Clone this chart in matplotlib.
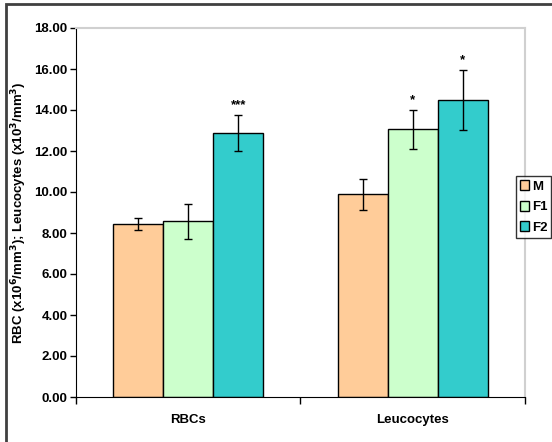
import numpy as np
import matplotlib.pyplot as plt
from matplotlib.patches import Rectangle

# --- data ---
categories = ['RBCs', 'Leucocytes']
groups = ['M', 'F1', 'F2']
m_vals = [8.43, 9.89]
f1_vals = [8.57, 13.05]
f2_vals = [12.88, 14.48]
m_err = [0.29, 0.75]
f1_err = [0.84, 0.94]
f2_err = [0.86, 1.46]
stars = [['', '', '***'], ['', '*', '*']]
yticks = [0, 2, 4, 6, 8, 10, 12, 14, 16, 18]

colors = ['#FFCC99', '#CCFFCC', '#33CCCC']

plt.rcParams['font.family'] = ['Liberation Sans', 'DejaVu Sans']
plt.rcParams['font.weight'] = 'bold'

W, H = 552, 442
fig = plt.figure(figsize=(W / 100, H / 100), dpi=100)
# plot area in pixels: x 76..525, y 28..397
ax = fig.add_axes([76 / W, 1 - 397 / H, (525 - 76) / W, (397 - 28) / H])

# outer chart frame
fig.patches.append(Rectangle((6 / W, -0.1), 1.2, 1 - 4 / H + 0.1, transform=fig.transFigure,
                             fill=False, edgecolor='#404040', linewidth=2))

x = np.arange(len(categories))
bw = 0.223
series = [m_vals, f1_vals, f2_vals]
errs = [m_err, f1_err, f2_err]
for i, (vals, err) in enumerate(zip(series, errs)):
    pos = x + (i - 1) * bw
    ax.bar(pos, vals, width=bw, color=colors[i], edgecolor='black', linewidth=1,
           label=groups[i], zorder=2)
    ax.errorbar(pos, vals, yerr=err, fmt='none', ecolor='black', elinewidth=1,
                capsize=3, capthick=1, zorder=3)
    for j in range(len(categories)):
        s = stars[j][i]
        if s:
            ax.text(pos[j], vals[j] + err[j] + 0.2, s, ha='center', va='bottom',
                    fontsize=9.5, fontweight='bold')

ax.set_xlim(-0.5, 1.5)
ax.set_ylim(0, 18)
ax.set_yticks(yticks)
ax.set_yticklabels([f'{v:.2f}' for v in yticks], fontsize=9.5, fontweight='bold')
ax.set_xticks([-0.5, 0.5, 1.5])
ax.set_xticklabels([])
ax.set_xticks(x, minor=True)
ax.set_xticklabels(categories, minor=True, fontsize=9.5, fontweight='bold')
ax.tick_params(axis='x', which='minor', length=0, pad=12)
ax.tick_params(axis='x', which='major', length=5, direction='out', width=1)
ax.tick_params(axis='y', length=4, direction='out', width=1, pad=2)

ax.spines['left'].set_color('black')
ax.spines['bottom'].set_color('black')
ax.spines['top'].set_color('#d0d0d0')
ax.spines['right'].set_color('#d0d0d0')
ax.spines['top'].set_linewidth(1.5)
ax.spines['right'].set_linewidth(1.5)

ax.set_ylabel('RBC (x10$^{6}$/mm$^{3}$); Leucocytes (x10$^{3}$/mm$^{3}$)',
              fontsize=9.5, fontweight='bold', labelpad=4)

leg = fig.legend(loc='upper left', bbox_to_anchor=(516 / W, 1 - 176 / H),
                 frameon=True, fancybox=False, edgecolor='black', fontsize=9.5,
                 handlelength=0.7, handleheight=0.8, handletextpad=0.2,
                 borderpad=0.3, labelspacing=0.6, borderaxespad=0)
leg.get_frame().set_linewidth(1)
for t in leg.get_texts():
    t.set_fontweight('bold')

fig.savefig('out.png', dpi=100)
